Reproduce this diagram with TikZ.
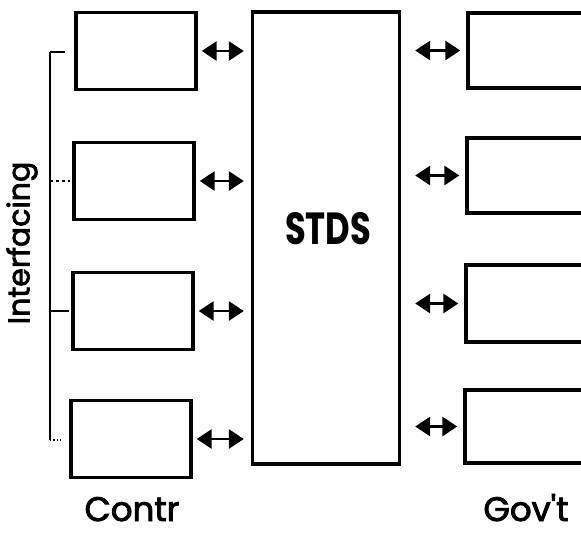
\documentclass[tikz,border=0pt]{standalone}
\usepackage{fontspec}
\setmainfont{Poppins}
\newfontfamily\medfont{Poppins}[FakeBold=2.5]
\usetikzlibrary{arrows.meta, positioning}

\tikzset{
  unitbox/.style={draw, line width=3.4pt, inner sep=0pt, minimum width=120pt, minimum height=77pt},
  biarrow/.style={line width=2.8pt, {Triangle[length=15pt,width=19pt]}-{Triangle[length=15pt,width=19pt]}},
  bigtext/.style={font=\medfont\fontsize{34}{40}\selectfont, anchor=base, inner sep=1pt}
}

\begin{document}
\begin{tikzpicture}[x=1pt, y=-1pt]
  \useasboundingbox (0,0) rectangle (581,536);
  \clip (0,0) rectangle (581,536);

  % central system
  \node[draw, line width=3.4pt, inner sep=0pt, minimum width=147pt, minimum height=452pt] (stds) at (326,238) {};
  \node[font=\bfseries\fontsize{45}{50}\selectfont, xscale=0.75] (stdslabel) at (328,229) {STDS};

  % contractor side
  \node[unitbox] (c1) at (136,51) {};
  \node[unitbox] (c2) at (134,181) {};
  \node[unitbox] (c3) at (133,311) {};
  \node[unitbox] (c4) at (131,439) {};

  % government side
  \node[unitbox, minimum width=140pt, minimum height=75pt] (g1) at (538,50.5) {};
  \node[unitbox, minimum width=140pt, minimum height=75pt] (g2) at (537,175.5) {};
  \node[unitbox, minimum width=140pt, minimum height=77pt] (g3) at (536,303.5) {};
  \node[unitbox, minimum width=140pt, minimum height=73pt] (g4) at (535,426.5) {};

  % exchanges with STDS
  \foreach \b in {c1,c2,c3,c4}
    \draw[biarrow, shorten <=4pt, shorten >=7pt] (\b.east) -- (\b.east -| stds.west);
  \foreach \b in {g1,g2,g3,g4}
    \draw[biarrow, shorten <=14pt, shorten >=6pt] (\b.west -| stds.east) -- (\b.west);

  % interfacing bracket
  \coordinate (bartop) at (50,52);
  \coordinate (barbot) at (50,440);
  \draw[line width=2.2pt] (bartop) -- (barbot);
  \draw[line width=1.6pt] (bartop) -- ([xshift=-9pt]c1.west |- bartop);
  \draw[line width=1.3pt, dashed] (c2.west -| bartop) -- ([xshift=-2pt]c2.west);
  \draw[line width=1.6pt] (c3.west -| bartop) -- ([xshift=-2pt]c3.west);
  \draw[line width=1.3pt, dotted] (barbot) -- ([xshift=-8pt]c4.west |- barbot);
  \node[font=\medfont\fontsize{30}{34}\selectfont, rotate=90] (iface) at (22,243) {Interfacing};

  % side labels
  \node[bigtext] (contr) at (132,521) {Contr};
  \node[bigtext] (govt) at (526,521) {Gov't};
\end{tikzpicture}
\end{document}
